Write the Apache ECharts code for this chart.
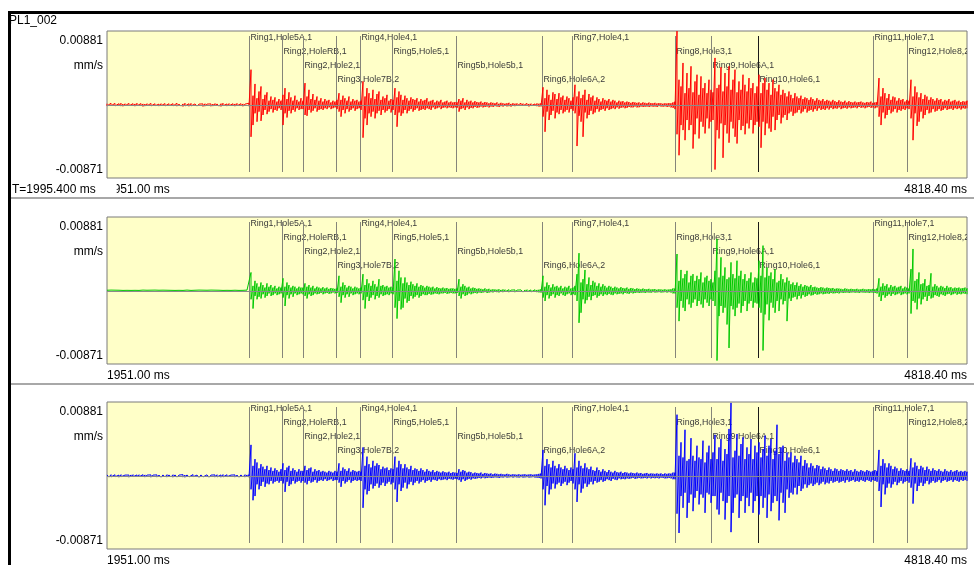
<!DOCTYPE html>
<html>
<head>
<meta charset="utf-8">
<title>PL1_002</title>
<script src="https://cdn.jsdelivr.net/npm/echarts@6/dist/echarts.min.js"></script>
<style>
  html, body { margin: 0; padding: 0; background: #fff; }
  #chart { width: 974px; height: 565px; }
</style>
</head>
<body>
<div id="chart"></div>
<script>
// record window (ms) and cursor
var timeStart = 1951.00;
var timeEnd = 4818.40;
var cursorTime = 1995.400;
var recordName = 'PL1_002';
var unitName = 'mm/s';

// amplitude limits, in 0.001 mm/s
var yMax = 8.81;
var yMin = -8.71;

// blast events
var markerTimes = [2424.5, 2535, 2605, 2714.5, 2793, 2902, 3113, 3400.6, 3502.7, 3845, 3965.5, 4121.7, 4506, 4616.7];
var markerNames = ['Ring1,Hole5A,1', 'Ring2,HoleRB,1', 'Ring2,Hole2,1', 'Ring3,Hole7B,2', 'Ring4,Hole4,1',
  'Ring5,Hole5,1', 'Ring5b,Hole5b,1', 'Ring6,Hole6A,2', 'Ring7,Hole4,1', 'Ring8,Hole3,1',
  'Ring9,Hole6A,1', 'Ring10,Hole6,1', 'Ring11,Hole7,1', 'Ring12,Hole8,2'];

// waveform peaks: max / min of each bin, 431 bins across the window (0.001 mm/s)
var redHi = [
  0.15,0.1,0.2,0.12,0.18,0.1,0.15,0.2,0.1,0.14,0.12,0.18,0.1,0.15,0.12,0.2,0.1,0.16,
  0.12,0.1,0.15,0.12,0.18,0.1,0.14,0.12,0.1,0.15,0.12,0.16,0.1,0.14,0.12,0.15,0.1,0.2,
  0.1,0.16,0.12,0.2,0.1,0.14,0.18,0.1,0.12,0.15,0.1,0.18,0.12,0.14,0.1,0.2,0.12,0.1,
  0.16,0.12,0.1,0.15,0.2,0.1,0.12,0.16,0.1,0.14,0.12,0.18,0.1,0.15,0.12,0.1,0.14,0.2,
  4.2,1.1,2.5,0.8,1.6,2.2,0.7,1.2,1.5,0.5,1.0,0.6,0.9,0.4,0.7,0.5,
  1.2,2.0,0.7,1.5,0.9,0.5,1.1,0.6,0.4,0.8,
  0.5,2.6,1.0,1.8,0.7,1.3,0.6,1.0,0.5,0.8,0.4,0.7,0.5,0.6,0.3,0.5,0.4,0.6,
  1.4,0.6,1.1,0.8,0.5,1.0,0.4,0.7,0.5,0.6,0.4,0.5,
  2.8,1.0,2.0,1.4,0.8,1.8,0.7,1.3,1.6,0.6,1.0,0.8,1.2,0.5,0.7,0.6,
  2.0,0.9,1.6,1.2,0.6,1.1,0.8,0.5,0.9,0.7,0.6,0.8,0.4,0.7,0.5,0.6,0.8,0.4,0.5,0.6,0.3,0.5,0.4,0.6,0.3,0.4,0.5,0.3,0.4,0.3,0.35,0.3,
  0.7,0.5,0.8,0.3,0.6,0.4,0.5,0.3,0.45,0.35,0.3,0.4,0.25,0.35,0.3,0.2,0.3,0.25,0.2,0.3,0.15,0.25,0.2,0.15,0.2,0.25,0.12,0.2,0.15,0.18,0.12,0.2,0.15,0.1,0.18,0.12,0.15,0.1,0.12,0.18,0.15,0.2,
  2.1,0.8,1.8,1.2,0.6,1.5,1.3,0.7,1.4,0.9,1.1,0.6,1.0,0.8,0.5,0.9,
  2.4,1.0,1.6,0.8,1.2,1.8,0.6,1.3,0.9,1.1,0.5,0.9,0.7,0.4,0.8,0.6,0.5,0.7,0.4,0.6,0.5,0.3,0.5,0.4,0.45,0.3,0.4,0.35,0.25,0.35,0.3,0.25,0.3,0.2,0.3,0.25,0.2,0.28,0.22,0.2,0.25,0.18,0.22,0.2,0.15,0.2,0.18,0.22,0.2,0.3,
  0.4,8.8,3.0,2.2,5.0,1.4,3.8,2.0,4.6,1.5,2.8,3.6,1.2,3.4,2.0,2.6,1.4,3.0,1.8,1.5,
  5.6,2.0,2.4,4.5,1.6,3.8,2.2,4.6,1.8,3.0,4.2,1.5,2.8,1.8,3.6,2.4,1.6,3.2,2.0,2.6,1.4,2.2,
  3.6,1.4,2.6,3.2,1.8,2.6,1.2,3.0,2.0,1.6,2.4,1.2,1.8,1.4,1.0,1.6,1.2,0.8,1.4,1.0,0.8,1.1,0.7,0.9,0.8,0.6,0.9,0.7,0.5,0.8,0.6,0.5,0.7,0.45,0.6,0.5,0.4,0.6,0.45,0.35,0.55,0.4,0.35,0.5,0.3,0.45,0.35,0.3,0.4,0.3,0.35,0.4,0.3,0.25,0.35,0.3,0.4,0.25,0.3,0.35,
  3.2,1.0,2.0,1.4,0.8,1.3,0.6,1.0,0.9,0.5,0.8,0.6,0.7,0.4,0.6,0.5,
  3.0,1.0,2.2,1.5,0.9,1.4,0.7,1.2,1.0,0.6,0.9,0.7,0.5,0.8,0.6,0.7,0.4,0.6,0.5,0.7,0.4,0.5,0.6,0.4,0.5,0.35,0.45,0.4,0.5
];
var redLo = [
  -0.12,-0.18,-0.1,-0.15,-0.12,-0.2,-0.1,-0.14,-0.16,-0.1,-0.15,-0.1,-0.18,-0.12,-0.15,-0.1,-0.16,-0.12,
  -0.18,-0.14,-0.1,-0.15,-0.12,-0.18,-0.1,-0.15,-0.14,-0.1,-0.16,-0.12,-0.15,-0.1,-0.14,-0.12,-0.16,-0.15,
  -0.1,-0.14,-0.18,-0.12,-0.1,-0.16,-0.12,-0.2,-0.1,-0.14,-0.12,-0.1,-0.18,-0.15,-0.12,-0.1,-0.16,-0.14,
  -0.12,-0.1,-0.15,-0.18,-0.1,-0.12,-0.14,-0.1,-0.2,-0.12,-0.15,-0.1,-0.14,-0.12,-0.16,-0.1,-0.12,-0.15,
  -3.8,-2.4,-1.0,-2.0,-0.8,-1.9,-1.2,-0.6,-1.1,-0.8,-0.5,-0.9,-0.6,-0.7,-0.4,-0.6,
  -2.4,-1.0,-1.5,-0.7,-1.0,-0.6,-0.8,-0.4,-0.6,-0.5,
  -0.5,-1.2,-1.3,-0.6,-0.9,-0.7,-0.4,-0.8,-0.6,-0.5,-0.6,-0.4,-0.5,-0.3,-0.5,-0.4,-0.3,-0.5,
  -0.8,-1.4,-0.6,-1.0,-0.5,-0.8,-0.6,-0.4,-0.7,-0.5,-0.4,-0.6,
  -3.9,-1.6,-2.4,-1.0,-1.4,-0.8,-1.6,-1.0,-0.7,-1.2,-0.6,-0.9,-0.7,-0.5,-0.9,-0.6,
  -1.2,-2.6,-0.9,-1.3,-1.0,-0.6,-1.0,-0.7,-0.5,-0.8,-0.6,-0.4,-0.7,-0.6,-0.5,-0.6,-0.4,-0.5,-0.6,-0.3,-0.5,-0.4,-0.3,-0.5,-0.35,-0.3,-0.4,-0.3,-0.35,-0.4,-0.3,-0.35,
  -0.8,-0.5,-0.4,-0.6,-0.3,-0.5,-0.35,-0.4,-0.25,-0.35,-0.3,-0.2,-0.3,-0.25,-0.2,-0.3,-0.2,-0.25,-0.15,-0.2,-0.25,-0.15,-0.2,-0.12,-0.18,-0.15,-0.2,-0.12,-0.15,-0.1,-0.18,-0.12,-0.1,-0.15,-0.12,-0.18,-0.1,-0.14,-0.12,-0.15,-0.2,-0.18,
  -1.4,-3.2,-0.8,-1.8,-1.2,-0.7,-1.6,-0.9,-1.1,-0.6,-1.0,-0.8,-0.6,-0.9,-0.5,-0.7,
  -1.0,-4.9,-1.3,-2.0,-3.8,-0.9,-1.6,-1.2,-0.7,-1.1,-0.9,-0.5,-0.8,-0.6,-0.5,-0.7,-0.4,-0.6,-0.5,-0.4,-0.5,-0.3,-0.45,-0.35,-0.3,-0.4,-0.35,-0.25,-0.3,-0.3,-0.2,-0.3,-0.28,-0.2,-0.25,-0.22,-0.2,-0.25,-0.18,-0.22,-0.2,-0.25,-0.15,-0.2,-0.22,-0.18,-0.25,-0.2,-0.3,-0.35,
  -0.5,-3.5,-6.0,-2.4,-3.0,-4.2,-1.8,-3.0,-2.4,-5.2,-3.5,-1.6,-4.0,-2.0,-2.6,-3.4,-1.6,-2.8,-2.0,-1.8,
  -7.7,-3.0,-4.0,-2.2,-6.3,-2.4,-3.4,-4.5,-2.0,-2.8,-3.8,-4.6,-1.8,-3.0,-2.5,-3.5,-2.2,-2.8,-1.8,-3.4,-2.4,-2.0,
  -2.6,-5.1,-2.0,-3.6,-2.2,-2.8,-3.2,-1.4,-3.0,-1.8,-1.2,-2.2,-1.5,-1.2,-1.8,-1.0,-0.8,-1.3,-1.0,-0.9,-0.6,-1.0,-0.8,-0.5,-0.9,-0.7,-0.6,-0.8,-0.5,-0.7,-0.4,-0.6,-0.5,-0.6,-0.4,-0.55,-0.35,-0.5,-0.4,-0.45,-0.3,-0.5,-0.4,-0.35,-0.45,-0.3,-0.4,-0.35,-0.3,-0.4,-0.25,-0.35,-0.3,-0.4,-0.3,-0.25,-0.35,-0.3,-0.4,-0.3,
  -1.4,-2.4,-0.9,-1.6,-1.2,-0.6,-1.0,-0.8,-0.5,-0.9,-0.6,-0.7,-0.5,-0.6,-0.4,-0.5,
  -1.6,-4.2,-1.0,-2.5,-2.0,-0.8,-1.6,-1.2,-0.6,-1.0,-0.9,-0.5,-0.8,-0.7,-0.5,-0.7,-0.6,-0.4,-0.6,-0.5,-0.45,-0.6,-0.4,-0.5,-0.4,-0.55,-0.4,-0.45,-0.4
];
var greenHi = [
  0.08,0.06,0.1,0.07,0.09,0.06,0.08,0.1,0.06,0.08,0.07,0.1,0.06,0.08,0.07,0.09,0.06,0.08,
  0.1,0.07,0.08,0.06,0.09,0.07,0.1,0.06,0.08,0.07,0.09,0.06,0.08,0.1,0.07,0.08,0.06,0.1,
  0.07,0.09,0.06,0.08,0.1,0.07,0.06,0.09,0.08,0.06,0.1,0.07,0.09,0.06,0.08,0.07,0.1,0.06,
  0.09,0.07,0.08,0.1,0.06,0.08,0.07,0.09,0.06,0.1,0.08,0.07,0.06,0.09,0.07,0.08,0.1,0.12,
  2.2,0.6,1.2,0.9,0.5,1.0,0.7,0.4,0.9,0.5,0.7,0.4,0.6,0.3,0.5,0.4,
  1.5,0.5,1.0,0.7,0.4,0.6,0.5,0.3,0.5,0.4,
  0.4,0.9,0.5,0.7,0.4,0.6,0.3,0.5,0.4,0.3,0.45,0.3,0.4,0.25,0.35,0.3,0.25,0.3,
  1.8,0.5,1.0,0.7,0.4,0.6,0.5,0.3,0.5,0.4,0.3,0.4,
  2.0,0.7,1.4,0.9,0.6,1.2,0.8,0.5,1.4,0.6,0.7,0.5,0.6,0.4,0.5,0.4,
  3.8,1.2,2.4,1.6,0.9,1.6,1.0,0.7,1.1,0.8,0.6,0.9,0.5,0.7,0.6,0.4,0.6,0.5,0.4,0.5,0.3,0.45,0.35,0.3,0.4,0.3,0.35,0.25,0.3,0.3,0.25,0.3,
  1.4,0.5,0.8,0.6,0.4,0.5,0.3,0.4,0.35,0.25,0.3,0.25,0.2,0.3,0.2,0.25,0.15,0.2,0.18,0.15,0.2,0.12,0.18,0.15,0.12,0.15,0.1,0.15,0.12,0.1,0.14,0.12,0.1,0.12,0.15,0.1,0.12,0.1,0.14,0.12,0.15,0.2,
  1.8,0.5,1.0,0.7,0.4,0.8,0.5,0.6,0.4,0.6,0.3,0.5,0.4,0.6,0.3,0.4,
  0.6,2.0,4.5,1.0,1.4,2.5,0.8,1.6,0.7,1.2,1.0,0.6,0.9,0.5,0.8,0.6,0.4,0.6,0.5,0.35,0.5,0.4,0.3,0.45,0.35,0.3,0.4,0.25,0.35,0.3,0.22,0.3,0.25,0.2,0.28,0.22,0.2,0.25,0.18,0.2,0.22,0.15,0.2,0.18,0.15,0.2,0.15,0.18,0.2,0.3,
  0.3,4.4,1.2,2.5,1.5,2.0,2.4,1.0,1.8,2.0,1.2,1.8,1.4,2.2,1.0,1.6,1.8,1.2,1.4,1.0,
  2.4,6.2,1.6,4.0,1.8,2.8,1.4,1.6,3.4,2.0,1.5,3.6,1.8,2.4,1.4,2.0,1.2,1.5,2.2,1.0,1.6,1.5,
  3.6,1.8,5.4,1.6,2.8,1.8,2.2,1.4,2.6,1.0,1.2,2.0,1.4,1.0,1.6,1.2,0.8,1.0,0.7,1.0,0.6,0.8,0.5,0.7,0.6,0.5,0.7,0.45,0.5,0.4,0.35,0.45,0.4,0.3,0.4,0.35,0.3,0.35,0.25,0.3,0.28,0.25,0.2,0.3,0.25,0.2,0.25,0.22,0.2,0.25,0.18,0.2,0.25,0.2,0.18,0.22,0.2,0.25,0.2,0.3,
  1.5,0.5,0.9,0.6,0.8,0.4,0.7,0.5,0.6,0.4,0.5,0.6,0.3,0.5,0.4,0.3,
  2.6,5.0,1.2,1.4,2.2,0.8,0.9,1.4,0.6,0.7,2.1,0.5,0.8,0.6,0.4,0.6,0.5,0.35,0.6,0.4,0.45,0.3,0.4,0.35,0.4,0.3,0.35,0.4,0.3
];
var greenLo = [
  -0.07,-0.09,-0.06,-0.08,-0.1,-0.07,-0.09,-0.06,-0.08,-0.07,-0.09,-0.06,-0.08,-0.1,-0.07,-0.06,-0.09,-0.07,
  -0.06,-0.08,-0.07,-0.09,-0.06,-0.08,-0.07,-0.1,-0.06,-0.09,-0.07,-0.08,-0.06,-0.08,-0.09,-0.07,-0.08,-0.1,
  -0.08,-0.06,-0.09,-0.07,-0.06,-0.1,-0.08,-0.07,-0.09,-0.06,-0.08,-0.1,-0.07,-0.09,-0.06,-0.08,-0.07,-0.1,
  -0.06,-0.09,-0.07,-0.08,-0.1,-0.06,-0.09,-0.07,-0.08,-0.06,-0.1,-0.08,-0.07,-0.09,-0.06,-0.08,-0.07,-0.1,
  -1.0,-2.1,-0.6,-1.0,-0.7,-0.9,-0.4,-0.8,-0.6,-0.3,-0.6,-0.5,-0.3,-0.5,-0.4,-0.3,
  -0.8,-1.8,-0.5,-0.9,-0.4,-0.7,-0.3,-0.5,-0.4,-0.3,
  -0.4,-0.6,-0.9,-0.4,-0.6,-0.5,-0.3,-0.4,-0.35,-0.25,-0.4,-0.3,-0.25,-0.35,-0.3,-0.2,-0.3,-0.25,
  -0.7,-1.4,-0.5,-0.8,-0.4,-0.7,-0.3,-0.5,-0.4,-0.3,-0.4,-0.3,
  -1.1,-2.1,-0.7,-1.2,-0.8,-0.5,-1.0,-0.6,-0.8,-0.4,-0.6,-0.5,-0.4,-0.5,-0.3,-0.4,
  -2.0,-3.3,-1.2,-2.2,-2.0,-0.9,-1.4,-1.2,-0.6,-0.9,-0.7,-0.5,-0.8,-0.6,-0.4,-0.5,-0.5,-0.35,-0.45,-0.4,-0.3,-0.35,-0.4,-0.3,-0.3,-0.25,-0.35,-0.3,-0.25,-0.3,-0.3,-0.25,
  -0.6,-0.9,-0.4,-0.6,-0.5,-0.3,-0.4,-0.3,-0.25,-0.3,-0.2,-0.25,-0.2,-0.15,-0.25,-0.2,-0.15,-0.18,-0.12,-0.15,-0.18,-0.12,-0.15,-0.1,-0.12,-0.15,-0.1,-0.12,-0.15,-0.1,-0.12,-0.1,-0.14,-0.12,-0.1,-0.15,-0.12,-0.1,-0.12,-0.15,-0.18,-0.2,
  -0.8,-1.2,-0.5,-0.9,-0.6,-0.4,-0.8,-0.5,-0.6,-0.3,-0.5,-0.6,-0.4,-0.3,-0.5,-0.4,
  -0.5,-1.2,-3.8,-2.6,-1.0,-1.5,-1.1,-0.7,-1.1,-0.6,-0.5,-0.8,-0.6,-0.4,-0.6,-0.4,-0.5,-0.35,-0.45,-0.5,-0.3,-0.4,-0.35,-0.3,-0.4,-0.25,-0.3,-0.35,-0.22,-0.3,-0.25,-0.2,-0.25,-0.22,-0.2,-0.25,-0.18,-0.2,-0.22,-0.15,-0.2,-0.18,-0.15,-0.2,-0.18,-0.15,-0.2,-0.15,-0.2,-0.3,
  -0.3,-2.0,-3.6,-1.2,-2.0,-2.4,-1.0,-1.6,-2.0,-1.4,-1.0,-1.8,-1.2,-1.6,-2.0,-1.0,-1.4,-1.8,-1.0,-1.2,
  -1.8,-8.3,-3.0,-1.8,-2.6,-2.0,-4.0,-6.8,-1.8,-2.2,-3.0,-2.0,-1.5,-2.6,-1.8,-1.2,-2.4,-1.5,-1.2,-2.0,-1.4,-1.5,
  -2.0,-2.6,-7.1,-2.8,-1.6,-3.5,-1.4,-2.0,-2.6,-1.2,-2.4,-1.0,-1.6,-1.2,-3.6,-0.9,-1.2,-0.8,-0.7,-1.0,-0.6,-0.9,-0.5,-0.7,-0.6,-0.4,-0.55,-0.5,-0.35,-0.45,-0.4,-0.3,-0.4,-0.35,-0.3,-0.35,-0.25,-0.3,-0.28,-0.25,-0.3,-0.2,-0.25,-0.22,-0.2,-0.25,-0.2,-0.18,-0.22,-0.2,-0.25,-0.18,-0.2,-0.22,-0.2,-0.25,-0.2,-0.22,-0.25,-0.3,
  -0.7,-1.2,-0.5,-0.8,-0.6,-0.4,-0.6,-0.35,-0.5,-0.4,-0.3,-0.5,-0.4,-0.3,-0.4,-0.3,
  -2.7,-1.2,-1.4,-2.2,-0.9,-1.6,-1.0,-0.7,-1.2,-0.6,-0.9,-0.8,-0.5,-0.6,-0.7,-0.4,-0.5,-0.6,-0.4,-0.35,-0.5,-0.4,-0.3,-0.45,-0.35,-0.4,-0.3,-0.35,-0.4
];
var blueHi = [
  0.12,0.1,0.15,0.1,0.14,0.12,0.1,0.15,0.12,0.1,0.14,0.1,0.12,0.15,0.1,0.12,0.14,0.1,
  0.15,0.12,0.1,0.14,0.12,0.1,0.15,0.12,0.1,0.14,0.12,0.1,0.15,0.12,0.1,0.14,0.12,0.15,
  0.1,0.13,0.15,0.1,0.12,0.14,0.1,0.16,0.12,0.1,0.14,0.12,0.15,0.1,0.13,0.12,0.1,0.15,
  0.12,0.14,0.1,0.12,0.16,0.1,0.14,0.12,0.1,0.15,0.12,0.1,0.14,0.12,0.1,0.15,0.12,0.16,
  3.7,1.2,2.0,1.6,0.9,1.4,1.1,0.8,1.2,0.7,1.0,0.6,0.9,0.7,0.5,0.8,
  1.5,0.7,1.0,1.2,0.6,0.9,0.7,0.5,0.8,0.6,
  0.6,1.2,0.7,0.9,1.0,0.5,0.8,0.6,0.7,0.5,0.6,0.5,0.4,0.6,0.5,0.4,0.6,0.5,
  1.5,0.6,1.0,0.8,0.6,0.9,0.5,0.7,0.6,0.5,0.6,0.5,
  3.4,1.2,2.3,1.4,1.0,1.8,1.2,1.5,1.3,0.8,1.1,0.9,1.0,0.7,0.9,0.8,
  2.3,1.0,1.8,1.4,0.9,1.4,1.0,0.8,1.2,0.7,0.9,0.8,0.6,0.9,0.7,0.5,0.8,0.6,0.5,0.7,0.45,0.6,0.5,0.4,0.55,0.45,0.4,0.5,0.35,0.45,0.4,0.35,
  0.8,0.5,0.7,0.6,0.4,0.5,0.45,0.3,0.4,0.35,0.3,0.4,0.25,0.35,0.3,0.25,0.3,0.2,0.28,0.25,0.2,0.25,0.2,0.18,0.25,0.2,0.15,0.2,0.18,0.15,0.2,0.15,0.18,0.2,0.15,0.18,0.2,0.15,0.18,0.2,0.25,0.3,
  3.1,1.2,2.0,1.4,1.0,1.8,1.2,0.9,1.4,1.0,0.8,1.2,0.9,0.7,1.0,0.8,
  2.7,1.0,1.8,1.2,0.9,1.5,1.0,0.8,1.1,0.7,0.6,1.0,0.7,0.5,0.8,0.6,0.45,0.7,0.5,0.4,0.6,0.45,0.4,0.5,0.35,0.45,0.4,0.3,0.4,0.35,0.3,0.4,0.3,0.35,0.25,0.3,0.35,0.25,0.3,0.28,0.25,0.3,0.25,0.3,0.22,0.3,0.25,0.3,0.28,0.4,
  0.4,7.3,2.4,4.0,2.2,5.5,1.8,2.0,4.5,2.4,1.8,3.6,2.2,2.0,4.2,1.6,2.8,3.6,2.0,2.8,
  4.9,2.0,3.4,4.4,1.8,3.2,2.6,5.6,8.7,2.2,3.0,5.0,2.4,3.8,4.6,2.0,3.4,2.6,4.4,2.0,3.6,2.8,
  4.0,2.2,3.2,4.8,2.4,3.6,4.4,2.0,3.0,6.1,2.6,3.4,3.6,1.8,2.8,2.2,2.8,1.6,2.4,2.0,1.6,2.4,1.2,1.9,1.5,1.0,1.5,1.2,0.9,1.3,1.2,0.8,1.1,0.9,0.7,1.0,0.8,0.6,0.9,0.8,0.6,0.8,0.7,0.6,0.8,0.6,0.7,0.5,0.8,0.6,0.5,0.7,0.6,0.5,0.7,0.6,0.5,0.6,0.7,0.6,
  3.1,1.2,2.0,1.5,1.0,1.5,1.2,0.8,1.1,0.9,0.6,0.9,0.7,0.6,0.8,0.6,
  2.1,1.0,1.6,1.2,0.8,1.2,1.0,0.7,1.1,0.8,0.6,0.9,0.7,0.6,0.8,0.6,0.5,0.8,0.6,0.5,0.7,0.5,0.6,0.7,0.5,0.6,0.5,0.6,0.5
];
var blueLo = [
  -0.1,-0.14,-0.12,-0.15,-0.1,-0.12,-0.15,-0.1,-0.14,-0.12,-0.1,-0.15,-0.12,-0.1,-0.14,-0.12,-0.1,-0.15,
  -0.12,-0.14,-0.12,-0.1,-0.15,-0.12,-0.1,-0.14,-0.12,-0.15,-0.1,-0.12,-0.14,-0.1,-0.12,-0.15,-0.1,-0.14,
  -0.12,-0.1,-0.14,-0.16,-0.1,-0.12,-0.15,-0.1,-0.13,-0.12,-0.16,-0.1,-0.12,-0.14,-0.1,-0.15,-0.12,-0.1,
  -0.14,-0.12,-0.1,-0.15,-0.12,-0.14,-0.1,-0.16,-0.12,-0.1,-0.14,-0.12,-0.15,-0.1,-0.12,-0.14,-0.12,-0.15,
  -1.6,-2.9,-2.4,-1.0,-1.6,-1.2,-0.7,-1.3,-0.9,-1.0,-0.6,-0.9,-0.7,-0.6,-0.8,-0.6,
  -0.9,-1.9,-0.7,-1.2,-1.0,-0.6,-0.9,-0.7,-0.6,-0.8,
  -0.6,-0.8,-1.0,-0.6,-0.8,-0.7,-0.5,-0.8,-0.6,-0.5,-0.6,-0.4,-0.6,-0.5,-0.4,-0.6,-0.5,-0.5,
  -0.8,-1.3,-0.6,-0.9,-0.7,-0.5,-0.8,-0.6,-0.5,-0.6,-0.5,-0.6,
  -3.8,-1.6,-2.2,-1.8,-1.0,-1.5,-1.2,-0.9,-1.4,-1.1,-0.8,-1.2,-0.9,-0.7,-1.0,-0.8,
  -1.6,-3.1,-1.0,-1.8,-1.4,-0.8,-1.5,-1.0,-0.7,-1.1,-0.8,-0.6,-0.9,-0.7,-0.5,-0.8,-0.6,-0.5,-0.7,-0.45,-0.5,-0.6,-0.4,-0.5,-0.45,-0.4,-0.5,-0.35,-0.4,-0.45,-0.35,-0.4,
  -0.5,-0.7,-0.4,-0.6,-0.45,-0.35,-0.45,-0.3,-0.35,-0.3,-0.25,-0.3,-0.2,-0.28,-0.25,-0.2,-0.25,-0.22,-0.18,-0.2,-0.25,-0.18,-0.2,-0.15,-0.2,-0.18,-0.15,-0.2,-0.15,-0.18,-0.2,-0.15,-0.2,-0.18,-0.15,-0.2,-0.18,-0.15,-0.2,-0.22,-0.25,-0.3,
  -1.6,-3.5,-1.2,-2.2,-1.6,-0.9,-1.5,-1.0,-0.8,-1.2,-0.9,-0.7,-1.1,-0.8,-0.6,-0.9,
  -1.6,-3.1,-1.0,-2.0,-1.5,-0.9,-1.3,-1.0,-0.7,-1.0,-0.6,-0.8,-0.7,-0.5,-0.7,-0.6,-0.4,-0.5,-0.6,-0.35,-0.45,-0.5,-0.3,-0.4,-0.35,-0.4,-0.3,-0.35,-0.3,-0.25,-0.35,-0.3,-0.25,-0.3,-0.28,-0.25,-0.3,-0.22,-0.3,-0.25,-0.28,-0.25,-0.3,-0.22,-0.25,-0.3,-0.28,-0.25,-0.3,-0.4,
  -0.4,-4.5,-6.8,-2.4,-3.8,-2.0,-5.0,-3.2,-2.2,-4.2,-2.6,-1.8,-3.4,-2.2,-2.6,-4.4,-2.0,-2.2,-3.2,-2.4,
  -2.4,-4.0,-4.6,-2.0,-3.0,-5.2,-3.2,-2.4,-6.7,-4.4,-2.6,-2.2,-5.0,-3.0,-2.4,-4.4,-2.6,-3.6,-2.0,-4.4,-3.0,-2.4,
  -4.6,-2.4,-3.8,-2.6,-5.0,-2.2,-4.2,-3.2,-2.4,-3.0,-5.3,-2.0,-3.2,-4.4,-1.6,-2.6,-2.0,-2.2,-1.4,-2.2,-1.2,-1.8,-1.5,-1.0,-1.4,-1.1,-0.9,-1.2,-1.0,-0.8,-1.1,-0.9,-0.7,-1.0,-0.8,-0.9,-0.6,-0.8,-0.7,-0.6,-0.8,-0.7,-0.6,-0.8,-0.5,-0.7,-0.6,-0.5,-0.7,-0.6,-0.7,-0.5,-0.6,-0.7,-0.5,-0.6,-0.7,-0.5,-0.6,-0.7,
  -1.8,-3.7,-1.0,-2.2,-1.4,-0.9,-1.4,-1.0,-0.7,-1.1,-0.8,-0.6,-0.9,-0.7,-0.6,-0.8,
  -1.4,-3.3,-0.9,-1.8,-1.2,-0.8,-1.2,-0.9,-0.6,-1.0,-0.8,-0.6,-0.8,-0.7,-0.5,-0.8,-0.6,-0.5,-0.7,-0.6,-0.5,-0.7,-0.5,-0.6,-0.7,-0.5,-0.6,-0.5,-0.6
];

var traces = [
  { hi: redHi, lo: redLo, color: '#ff0000' },
  { hi: greenHi, lo: greenLo, color: '#00c800' },
  { hi: blueHi, lo: blueLo, color: '#0000ff' }
];

var panelTops = [31, 217, 402];
var panelHeight = 147;
var font = '"Liberation Sans", Arial, sans-serif';

function near(a, b) {
  return Math.abs(a - b) < 1e-6;
}

// each bin is drawn as a vertical stroke from its max to its min
function waveData(hi, lo) {
  var step = (timeEnd - timeStart) / (hi.length - 1);
  var out = [];
  for (var i = 0; i < hi.length; i++) {
    var t = timeStart + i * step;
    out.push([t, hi[i]], [t, lo[i]]);
  }
  return out;
}

function renderMarker(params, api) {
  var t = api.value(0);
  var level = api.value(1);
  var top = api.coord([t, yMax]);
  var bottom = api.coord([t, yMin]);
  var x = Math.round(top[0]) + 0.5;
  var name = markerNames[params.dataIndex];
  var dark = name.indexOf('Ring10') === 0;
  return {
    type: 'group',
    children: [{
      type: 'line',
      shape: { x1: x, y1: Math.round(top[1]) + 5, x2: x, y2: Math.round(bottom[1]) - 6 },
      style: { stroke: dark ? '#1a1a1a' : '#85857a', lineWidth: 1 }
    }, {
      type: 'text',
      style: {
        x: x + 1,
        y: top[1] + 7 + level * 13.7,
        text: name,
        fill: '#3a3a3a',
        font: '8.8px "Liberation Sans", Arial, sans-serif',
        align: 'left',
        verticalAlign: 'middle'
      }
    }]
  };
}

var chart = echarts.init(document.getElementById('chart'));

var grids = [], xAxes = [], yAxes = [], series = [], graphics = [];

panelTops.forEach(function (top, i) {
  grids.push({
    left: 107, right: 7, top: top, height: panelHeight,
    show: true, backgroundColor: '#ffffc8', borderColor: '#7a7a7a', borderWidth: 1,
    containLabel: false, outerBoundsMode: 'none'
  });
  xAxes.push({
    type: 'value', gridIndex: i, min: timeStart, max: timeEnd,
    axisLine: { show: false }, axisTick: { show: false }, splitLine: { show: false },
    axisLabel: {
      showMinLabel: true, showMaxLabel: true,
      alignMinLabel: 'left', alignMaxLabel: 'right',
      margin: 6, fontSize: 12, fontFamily: font, color: '#000',
      formatter: function (v) {
        return (near(v, timeStart) || near(v, timeEnd)) ? v.toFixed(2) + ' ms' : '';
      }
    }
  });
  yAxes.push({
    type: 'value', gridIndex: i, min: yMin, max: yMax,
    axisLine: { show: false }, axisTick: { show: false }, splitLine: { show: false },
    axisLabel: {
      showMinLabel: true, showMaxLabel: true, margin: 4,
      formatter: function (v) {
        if (near(v, yMax)) return '{top|' + (v / 1000).toFixed(5) + '}';
        if (near(v, yMin)) return '{bot|' + (v / 1000).toFixed(5) + '}';
        return '';
      },
      rich: {
        top: { fontSize: 12, fontFamily: font, color: '#000', padding: [20, 0, 0, 0] },
        bot: { fontSize: 12, fontFamily: font, color: '#000', padding: [0, 0, 16, 0] }
      }
    }
  });
  series.push({
    type: 'custom', xAxisIndex: i, yAxisIndex: i,
    clip: true, silent: true, animation: false, z: 1,
    data: markerTimes.map(function (t, k) { return [t, k % 4]; }),
    renderItem: renderMarker,
    markLine: {
      silent: true, symbol: 'none', animation: false,
      label: { show: false },
      lineStyle: { color: '#8a8a8a', width: 1, type: 'solid' },
      data: [{ yAxis: 0 }]
    }
  });
  series.push({
    type: 'line', xAxisIndex: i, yAxisIndex: i,
    data: waveData(traces[i].hi, traces[i].lo),
    showSymbol: false, symbol: 'none', silent: true, animation: false, z: 3,
    lineStyle: { color: traces[i].color, width: 1 },
    itemStyle: { color: traces[i].color }
  });
  graphics.push({
    type: 'text', x: 103, y: top + 35,
    style: { text: unitName, font: '12px ' + font, fill: '#000', align: 'right', verticalAlign: 'middle' }
  });
});

// frame, separators and header texts
graphics.push(
  { type: 'rect', shape: { x: 8, y: 11, width: 966, height: 3 }, style: { fill: '#000' } },
  { type: 'rect', shape: { x: 8, y: 11, width: 3, height: 554 }, style: { fill: '#000' } },
  { type: 'rect', shape: { x: 11, y: 197, width: 963, height: 2 }, style: { fill: '#a8a8a8' } },
  { type: 'rect', shape: { x: 11, y: 383, width: 963, height: 2 }, style: { fill: '#a8a8a8' } },
  { type: 'text', x: 9, y: 21, style: { text: recordName, font: '12px ' + font, fill: '#000', verticalAlign: 'middle' } },
  {
    type: 'text', x: 12, y: 190, z: 100,
    style: {
      text: 'T=' + cursorTime.toFixed(3) + ' ms', font: '12px ' + font, fill: '#000',
      verticalAlign: 'middle', backgroundColor: '#fff', padding: [0, 21, 0, 0]
    }
  }
);

chart.setOption({
  animation: false,
  backgroundColor: '#fff',
  grid: grids,
  xAxis: xAxes,
  yAxis: yAxes,
  series: series,
  graphic: graphics
});
</script>
</body>
</html>
